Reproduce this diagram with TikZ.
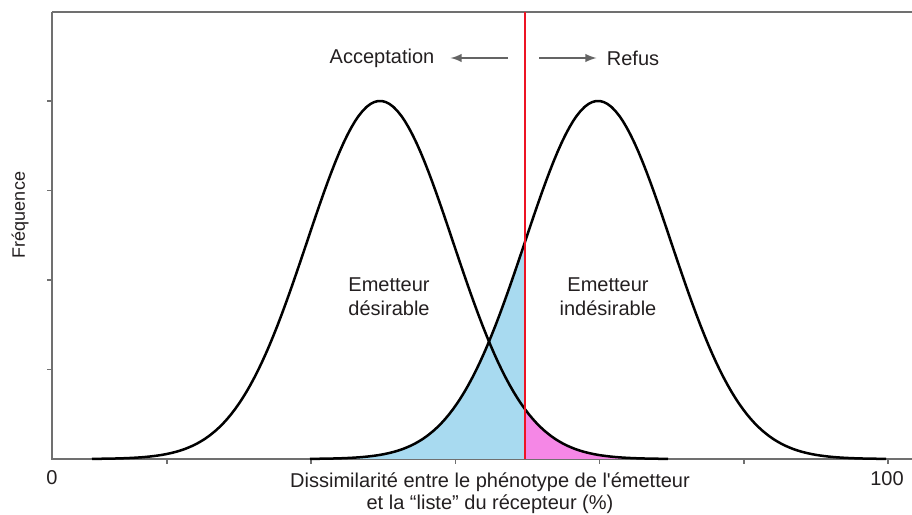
\documentclass[tikz,border=0pt]{standalone}
\usepackage{fontspec}
\setmainfont{Liberation Sans}[Ligatures=TeXOff]

\definecolor{axisgray}{RGB}{112,112,112}
\definecolor{arrowgray}{RGB}{100,100,100}
\definecolor{textdark}{RGB}{35,31,32}
\definecolor{acceptblue}{RGB}{168,218,240}
\definecolor{refusepink}{RGB}{245,135,230}
\definecolor{thresholdred}{RGB}{237,20,36}

\begin{document}
\begin{tikzpicture}[x=0.5pt,y=0.5pt,
        axis/.style={draw=axisgray, line width=0.75pt},
        bell/.style={draw=black, line width=1.25pt},
        pointer/.style={-latex, draw=arrowgray, line width=0.9pt},
        lbl/.style={font=\fontsize{10}{12}\selectfont, text=textdark, align=center, inner sep=0pt}]
        \useasboundingbox (0,0) rectangle (912,515);

        \coordinate (O) at (52,56);
        \coordinate (T) at (52,503);
        \coordinate (X) at (912,56);
        \coordinate (Tend) at (912,503);

        % axes and ticks
        \draw[axis] (T) -- (O) -- (X);
        \draw[axis] (T) -- (Tend);
        \foreach \k in {1,...,4}
            \draw[axis] (47,{56+89.5*\k}) -- (52,{56+89.5*\k});
        \foreach \k in {0,...,5}
            \draw[axis] ({167+144.2*\k},56) -- ({167+144.2*\k},51);

        % shaded tails
        \fill[acceptblue] (310,56) -- plot[domain=310:525, samples=80] (\x, {56+358*exp(-0.5*((\x-598)/73)^2)}) -- (525,56) -- cycle;
        \fill[refusepink] (525,56) -- plot[domain=525:668, samples=60] (\x, {56+358*exp(-0.5*((\x-380)/73)^2)}) -- (668,56) -- cycle;

        % the two distributions
        \draw[bell] plot[domain=92:668, samples=150] (\x, {56+358*exp(-0.5*((\x-380)/73)^2)});
        \draw[bell] plot[domain=310:886, samples=150] (\x, {56+358*exp(-0.5*((\x-598)/73)^2)});

        % threshold
        \coordinate (S) at (525,56);
        \coordinate (Stop) at (525,503);
        \draw[thresholdred, line width=1pt] (S) -- (Stop);

        \node[lbl] (acc) at (382,457) {Acceptation};
        \node[lbl] (ref) at (633,457) {Refus};
        \coordinate (accTail) at (508,457);
        \coordinate (refTail) at (539,457);
        \draw[pointer, shorten >=8pt] (accTail) -- (acc.east);
        \draw[pointer, shorten >=5pt] (refTail) -- (ref.west);

        \node[lbl] (good) at (389,218) {Emetteur\\désirable};
        \node[lbl] (bad) at (608,218) {Emetteur\\indésirable};

        \node[lbl, font=\fontsize{10}{11}\selectfont] (xlab) at (490,22) {Dissimilarité entre le phénotype de l'émetteur\\et la “liste” du récepteur (\%)};
        \node[lbl, font=\fontsize{9}{11}\selectfont, rotate=90] (ylab) at (20,300) {Fréquence};
        \node[lbl] (zero) at (52,37) {0};
        \node[lbl] (hundred) at (887,36) {100};

    \end{tikzpicture}
\end{document}
